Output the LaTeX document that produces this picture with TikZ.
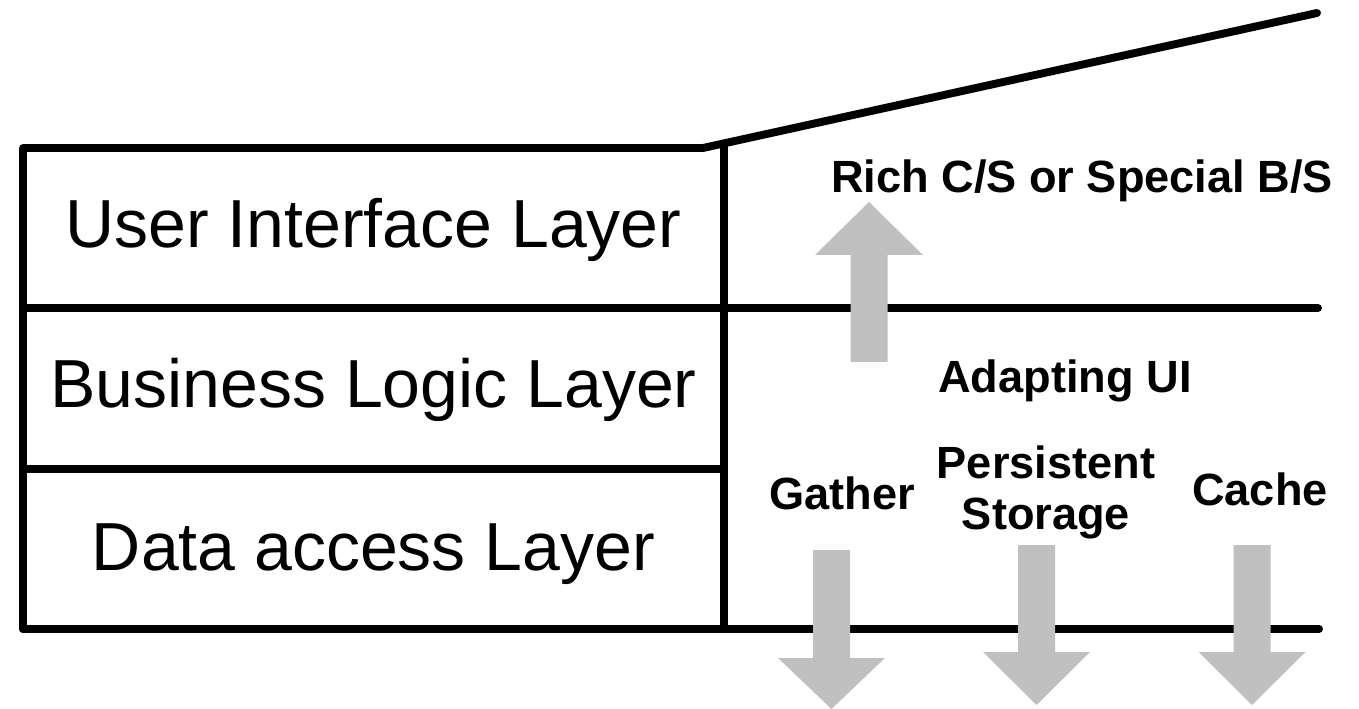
\documentclass[tikz,border=0pt]{standalone}
\usepackage{fontspec}
\setmainfont{Liberation Sans}
\usetikzlibrary{positioning}
\definecolor{arrowgray}{RGB}{192,192,192}
\tikzset{
    frame/.style = {line width=4.5pt,draw=black,line cap=round,line join=round},
    layertxt/.style = {anchor=base,inner sep=0pt,font=\fontsize{38.7}{44}\selectfont},
    tagtxt/.style = {anchor=base,inner sep=0pt,align=center,font=\bfseries\fontsize{25.7}{29}\selectfont},
    garrow/.style = {fill=arrowgray,draw=none}
}
\begin{document}
\begin{tikzpicture}[x=0.02cm,y=-0.02cm]
\useasboundingbox (0,0) rectangle (1359,709);

% frame of the layers
\coordinate (tl) at (23,148);
\coordinate (bl) at (23,629);
\coordinate (tk) at (703,148);
\coordinate (far) at (1317,13);
\coordinate (ml) at (23,308);
\coordinate (mr) at (1318,308);
\coordinate (dl) at (23,469);
\coordinate (dr) at (724,469);
\coordinate (br) at (1319,629);
\coordinate (vt) at (724,144);
\coordinate (vb) at (724,629);

\draw[frame] (bl) -- (tl) -- (tk) -- (far);
\draw[frame] (ml) -- (mr);
\draw[frame] (dl) -- (dr);
\draw[frame] (bl) -- (br);
\draw[frame] (vt) -- (vb);

\node[layertxt] at (373.5,248) (ui) {User Interface Layer};
\node[layertxt] at (373.5,408) (logic) {Business Logic Layer};
\node[layertxt] at (373.5,570) (data) {Data access Layer};

\node[tagtxt] at (1082,193) (rich) {Rich C/S or Special B/S};
\node[tagtxt] at (1065,393) (adapt) {Adapting UI};
\node[tagtxt] at (842,509) (gather) {Gather};
\node[tagtxt] at (1046,529) (persist) {Persistent\\Storage};
\node[tagtxt] at (1260,505) (cache) {Cache};

% gray arrows
\fill[garrow] (850.5,362) -- (887.5,362) -- (887.5,255) -- (923,255) -- (869,202)
    -- (815,255) -- (850.5,255) -- cycle;
\foreach \cx/\top/\base/\tip in {831.5/550/658/709, 1036.5/545/652/705, 1252/545/652/705}
  \fill[garrow] ({\cx-18.5},\top) -- ({\cx+18.5},\top) -- ({\cx+18.5},\base) -- ({\cx+53.5},\base)
    -- (\cx,\tip) -- ({\cx-53.5},\base) -- ({\cx-18.5},\base) -- cycle;

\end{tikzpicture}
\end{document}
